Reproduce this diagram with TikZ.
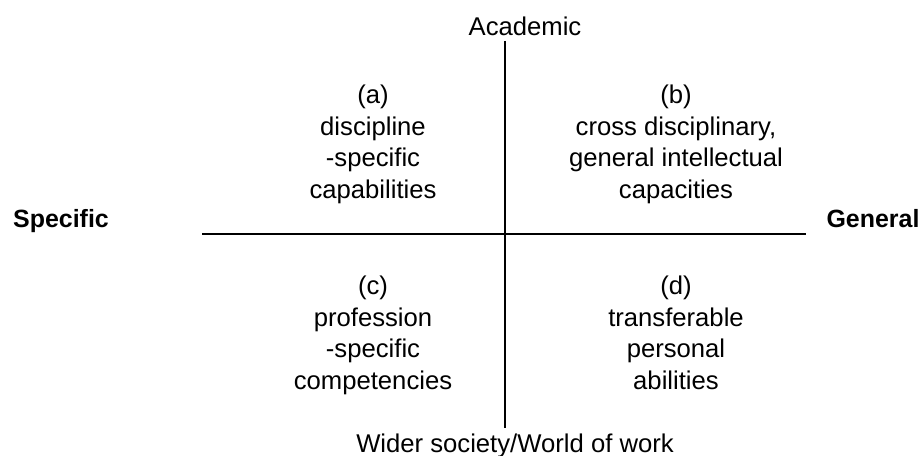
\documentclass[tikz,border=0pt]{standalone}
\usepackage{fontspec}
\setmainfont{Liberation Sans}
\usepackage{tikz}
\usetikzlibrary{positioning, calc}

\begin{document}
\begin{tikzpicture}[scale=1.0,
    quad/.style={align=center, inner sep=0pt, anchor=north, font=\fontsize{14.6}{17.9}\selectfont},
    axislabel/.style={inner sep=0pt, anchor=base, font=\fontsize{14.6}{17.9}\selectfont},
    poles/.style={inner sep=0pt, anchor=base, font=\fontsize{14.2}{17.9}\selectfont\bfseries},
    axis/.style={line width=1.1pt, black}]
    \useasboundingbox (0, 0) rectangle (18.46, 9.12);

    % Axes
    \coordinate (top) at (10.1, 8.3);
    \coordinate (bottom) at (10.1, 0.56);
    \coordinate (left) at (4.04, 4.44);
    \coordinate (right) at (16.12, 4.44);
    \draw[axis] (top) -- (bottom);
    \draw[axis] (left) -- (right);

    % Axis labels
    \node[axislabel] (academic) at (10.5, 8.4) {Academic};
    \node[axislabel] (society) at (10.3, 0.06) {Wider society/World of work};
    \node[poles] (specific) at (1.22, 4.56) {Specific};
    \node[poles] (general) at (17.46, 4.56) {General};

    % Quadrants
    \node[quad] (qa) at (7.46, 7.42) {(a)\\discipline\\-specific\\capabilities};
    \node[quad] (qb) at (13.52, 7.42) {(b)\\cross disciplinary,\\general intellectual\\capacities};
    \node[quad] (qc) at (7.46, 3.6) {(c)\\profession\\-specific\\competencies};
    \node[quad] (qd) at (13.52, 3.6) {(d)\\transferable\\personal\\abilities};
\end{tikzpicture}
\end{document}
